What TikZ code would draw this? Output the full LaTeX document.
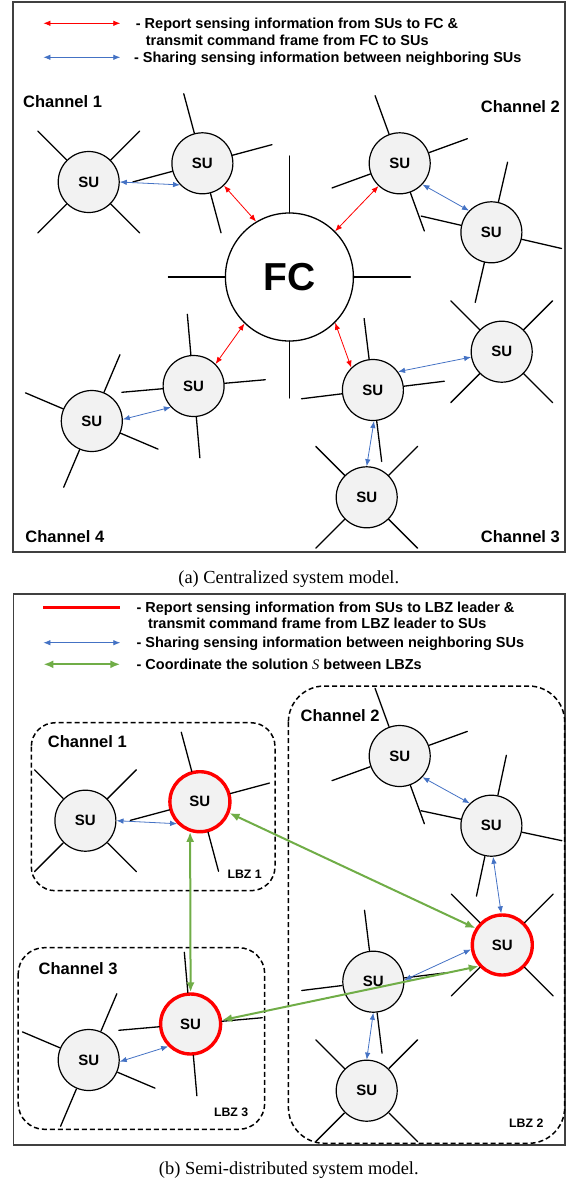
\documentclass[tikz,border=0pt]{standalone}
\usepackage{fontspec}
\setmainfont{Liberation Serif}
\newfontfamily\arialfont{Liberation Sans}
\usetikzlibrary{arrows.meta}

\definecolor{reportred}{RGB}{255,0,0}
\definecolor{shareblue}{RGB}{68,114,196}
\definecolor{coordgreen}{RGB}{112,173,71}
\definecolor{sugray}{RGB}{242,242,242}
\definecolor{framegray}{RGB}{64,64,64}

\tikzset{
    su/.style={circle, draw, line width=1.2pt, fill=sugray, minimum size=61pt, inner sep=0pt,
        font=\arialfont\bfseries\fontsize{15}{15}\selectfont},
    leader/.style={su, draw=reportred, line width=3.4pt, minimum size=60pt},
    fcnode/.style={circle, draw, line width=1.3pt, fill=white, minimum size=128pt, inner sep=0pt,
        font=\arialfont\bfseries\fontsize{39}{39}\selectfont},
    antenna/.style={line width=1.3pt, line cap=round},
    report/.style={draw=reportred, line width=0.8pt, {Latex[length=7pt,width=5.5pt]}-{Latex[length=7pt,width=5.5pt]}},
    share/.style={draw=shareblue, line width=0.8pt, {Latex[length=7pt,width=5.5pt]}-{Latex[length=7pt,width=5.5pt]}},
    coordline/.style={draw=coordgreen, line width=2pt, {Latex[length=10pt,width=8pt]}-{Latex[length=10pt,width=8pt]}},
    lbzbox/.style={line width=1.5pt, dash pattern=on 5pt off 3pt},
    panel/.style={draw=framegray, line width=1.3pt},
    chan/.style={inner sep=0pt, text height=11.8pt, text depth=0pt,
        font=\arialfont\bfseries\fontsize{16.5}{16.5}\selectfont},
    legtext/.style={anchor=west, inner sep=0pt, text height=10.3pt, text depth=0pt,
        font=\arialfont\bfseries\fontsize{14.5}{16}\selectfont},
    lbzlabel/.style={anchor=west, inner sep=0pt, text height=8.8pt, text depth=0pt,
        font=\arialfont\bfseries\fontsize{12.3}{12}\selectfont},
    captext/.style={inner sep=0pt, font=\fontsize{18.4}{20}\selectfont}
}

\begin{document}
\begin{tikzpicture}[x=1pt,y=1pt]
    \useasboundingbox (0,0) rectangle (574,-1184);

    % (a) Centralized
    \draw[panel] (13,-2) rectangle (565,-552);

    % Legend
    \coordinate (ra) at (43.4,-23.3);
    \coordinate (rb) at (120.3,-23.3);
    \coordinate (ba) at (43.4,-57.3);
    \coordinate (bb) at (120.3,-57.3);
    \draw[report] (ra) -- (rb);
    \draw[share] (ba) -- (bb);
    \node[legtext] (leg1) at (135.7,-23.3) {- Report sensing information from SUs to FC \&};
    \node[legtext] (leg1b) at (145.6,-40) {transmit command frame from FC to SUs};
    \node[legtext] (leg2) at (133.8,-57.3) {- Sharing sensing information between neighboring SUs};

    \node[chan, anchor=west] (ch1) at (22.9,-102) {Channel 1};
    \node[chan, anchor=east] (ch2) at (560,-107) {Channel 2};
    \node[chan, anchor=east] (ch3) at (560,-537) {Channel 3};
    \node[chan, anchor=west] (ch4) at (25.2,-537) {Channel 4};

    % Nodes
    \node[fcnode] (fc) at (289.4,-277) {FC};
    \node[su] (su1) at (88.7,-182) {SU};
    \node[su] (su2) at (202.4,-163.3) {SU};
    \node[su] (su3) at (399.7,-163.3) {SU};
    \node[su] (su4) at (491.4,-232.3) {SU};
    \node[su] (su5) at (193.6,-386) {SU};
    \node[su] (su6) at (91.8,-421) {SU};
    \node[su] (su7) at (372.9,-390) {SU};
    \node[su] (su8) at (501.7,-351.7) {SU};
    \node[su] (su9) at (366.7,-497.3) {SU};

    % Antennas
    \foreach \a in {0,90,180,270}{
        \draw[antenna] (fc.center) ++(\a:64) -- ++(\a:57);
    }
    \foreach \nd/\rot in {su1/45, su2/15, su3/20, su4/-13, su5/5, su6/-23, su7/7, su8/45, su9/45}{
        \foreach \a in {0,90,180,270}{
            \draw[antenna] (\nd.center) ++(\rot+\a:31) -- ++(\rot+\a:41);
        }
    }

    % Links
    \draw[share] (su1.0) -- (su2.224);
    \draw[report] (su2.-46) -- (fc.121);
    \draw[report] (fc.45) -- (su3.227);
    \draw[share] (su3.-43) -- (su4.136);
    \draw[report] (fc.226) -- (su5.45);
    \draw[report] (fc.-45) -- (su7.134);
    \draw[share] (su5.223) -- (su6.3);
    \draw[share] (su7.36) -- (su8.190);
    \draw[share] (su7.-88) -- (su9.90);

    \node[captext] (capa) at (288.8,-578.7) {(a) Centralized system model.};

    % (b) Semi-distributed
    \draw[panel] (13.5,-594) rectangle (565,-1145);

    % Legend
    \coordinate (rc) at (43.4,-607.7);
    \coordinate (rd) at (120.3,-607.7);
    \coordinate (bc) at (43.4,-642.7);
    \coordinate (bd) at (120.3,-642.7);
    \coordinate (gc) at (43.4,-664.3);
    \coordinate (gd) at (120.3,-664.3);
    \draw[reportred, line width=3.5pt] (rc) -- (rd);
    \draw[share] (bc) -- (bd);
    \draw[coordline] (gc) -- (gd);
    \node[legtext] (legb1) at (136.4,-607.7) {- Report sensing information from SUs to LBZ leader \&};
    \node[legtext] (legb1b) at (147.8,-623.3) {transmit command frame from LBZ leader to SUs};
    \node[legtext] (legb2) at (136.4,-642.7) {- Sharing sensing information between neighboring SUs};
    \node[legtext] (legb3) at (136.4,-664.3) {- Coordinate the solution {\rmfamily\itshape\mdseries S} between LBZs};

    % LBZ zones
    \draw[lbzbox, rounded corners=24pt] (31.3,-722.7) rectangle (275,-890.7);
    \draw[lbzbox, rounded corners=36pt] (288.4,-686) rectangle (564.7,-1143.3);
    \draw[lbzbox, rounded corners=26pt] (18.2,-947.7) rectangle (264.7,-1129.3);

    \node[chan, anchor=west] (zc1) at (47.7,-741.7) {Channel 1};
    \node[chan, anchor=west] (zc2) at (300.5,-715.7) {Channel 2};
    \node[chan, anchor=west] (zc3) at (38.5,-968.3) {Channel 3};
    \node[lbzlabel] (lbz1) at (227.4,-874.3) {LBZ 1};
    \node[lbzlabel] (lbz2) at (509,-1123.3) {LBZ 2};
    \node[lbzlabel] (lbz3) at (213.8,-1111.7) {LBZ 3};

    % Nodes
    \node[su] (sd1) at (85.4,-820.7) {SU};
    \node[leader] (sd2) at (199.9,-801.7) {SU};
    \node[su] (sd3) at (399.7,-756) {SU};
    \node[su] (sd4) at (491.4,-825.7) {SU};
    \node[leader] (sd5) at (502.3,-945) {SU};
    \node[su] (sd6) at (373.3,-981.7) {SU};
    \node[su] (sd7) at (366.7,-1090.7) {SU};
    \node[leader] (sd8) at (190.6,-1024) {SU};
    \node[su] (sd9) at (88.7,-1060) {SU};

    % Antennas
    \foreach \nd/\rot in {sd1/45, sd2/15, sd3/20, sd4/-12, sd5/45, sd6/7, sd7/45, sd8/5, sd9/-23}{
        \foreach \a in {0,90,180,270}{
            \draw[antenna] (\nd.center) ++(\rot+\a:31.5) -- ++(\rot+\a:40.5);
        }
    }

    % Links
    \draw[share] (sd1.0) -- (sd2.224);
    \draw[share] (sd3.-43) -- (sd4.134);
    \draw[share] (sd4.-87) -- (sd5.92);
    \draw[share] (sd6.3) -- (sd5.188);
    \draw[share] (sd6.-90) -- (sd7.90);
    \draw[share] (sd8.225) -- (sd9.-3);
    \draw[coordline] (sd2.252) -- (sd8.90);
    \draw[coordline] (sd2.-21) -- (sd5.148);
    \draw[coordline] (sd8.7) -- (sd5.222);

    \node[captext] (capb) at (288.8,-1170) {(b) Semi-distributed system model.};

\end{tikzpicture}
\end{document}
